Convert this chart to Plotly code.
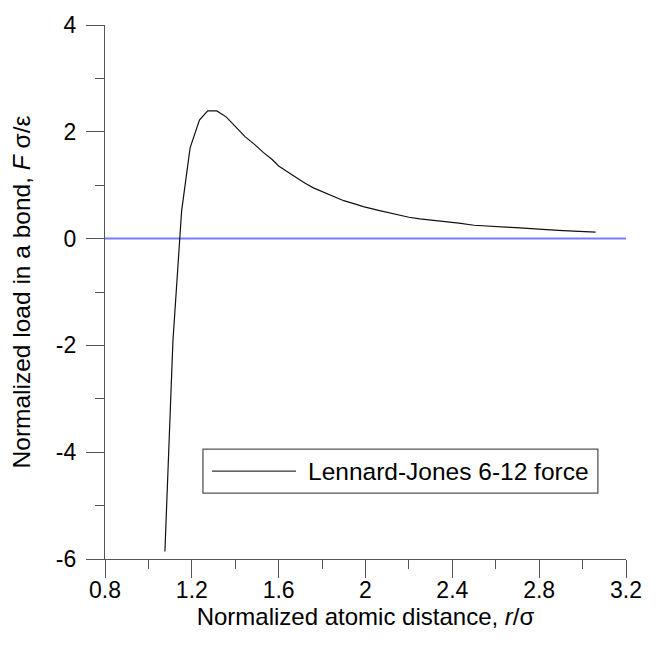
import plotly.graph_objects as go

# Data
r_sigma = [1.076, 1.113, 1.153, 1.192, 1.235, 1.273, 1.315, 1.358, 1.40, 1.445,
           1.49, 1.53, 1.57, 1.60, 1.64, 1.68, 1.72, 1.76, 1.81, 1.85,
           1.90, 1.95, 1.99, 2.06, 2.13, 2.20, 2.25, 2.30, 2.36, 2.43,
           2.50, 2.56, 2.62, 2.67, 2.71, 2.77, 2.82, 2.87, 2.91, 2.96,
           3.00, 3.06]
force = [-5.86, -1.91, 0.52, 1.70, 2.22, 2.39, 2.39, 2.28, 2.10, 1.91,
         1.76, 1.61, 1.48, 1.36, 1.25, 1.14, 1.04, 0.95, 0.86, 0.79,
         0.71, 0.65, 0.60, 0.53, 0.46, 0.40, 0.37, 0.35, 0.33, 0.29,
         0.25, 0.24, 0.23, 0.21, 0.20, 0.18, 0.17, 0.16, 0.15, 0.14,
         0.14, 0.12]
zero_x = [0.8, 3.2]
zero_y = [0, 0]

series_name = "Lennard-Jones 6-12 force"
x_ticks = [0.8, 1.2, 1.6, 2.0, 2.4, 2.8, 3.2]
x_tick_labels = ["0.8", "1.2", "1.6", "2", "2.4", "2.8", "3.2"]
y_ticks = [-6, -4, -2, 0, 2, 4]
y_tick_labels = ["-6", "-4", "-2", "0", "2", "4"]

FONT = "Liberation Sans, Arial, sans-serif"
AXC = "#555555"

fig = go.Figure()
fig.add_trace(go.Scatter(x=zero_x, y=zero_y, mode="lines",
                         line=dict(color="#7b7bff", width=2),
                         showlegend=False, hoverinfo="skip"))
fig.add_trace(go.Scatter(x=r_sigma, y=force, mode="lines", name=series_name,
                         line=dict(color="#111111", width=1.2),
                         showlegend=False))

# manual legend box (to match the long line sample of the original)
fig.add_shape(type="rect", xref="paper", yref="paper",
              x0=0.188, x1=0.946, y0=0.1233, y1=0.2056,
              line=dict(color="#555555", width=1.3), fillcolor="white", layer="above")
fig.add_shape(type="line", xref="paper", yref="paper",
              x0=0.2054, x1=0.3666, y0=0.1644, y1=0.1644,
              line=dict(color="#333333", width=1.2), layer="above")
fig.add_annotation(xref="paper", yref="paper", x=0.3858, y=0.1644,
                   xanchor="left", yanchor="middle", showarrow=False,
                   text=series_name, font=dict(family=FONT, size=24.5, color="black"))

axis_common = dict(showline=True, linecolor=AXC, linewidth=1.3,
                   ticks="outside", ticklen=18, tickwidth=1.3, tickcolor=AXC,
                   showgrid=False, zeroline=False, mirror=False,
                   tickfont=dict(family=FONT, size=23, color="black"))

fig.update_xaxes(range=[0.8, 3.2], tickmode="array", tickvals=x_ticks,
                 ticktext=x_tick_labels, ticklabelstandoff=-8,
                 minor=dict(ticks="outside", ticklen=9, tickwidth=1.3,
                            tickcolor=AXC, dtick=0.2, tick0=0.8, showgrid=False),
                 title=dict(text="Normalized atomic distance, <i>r</i>/σ",
                            font=dict(family=FONT, size=24, color="black"),
                            standoff=4),
                 **axis_common)
fig.update_yaxes(range=[-6, 4], tickmode="array", tickvals=y_ticks,
                 ticktext=y_tick_labels, ticklabelstandoff=5,
                 minor=dict(ticks="outside", ticklen=9, tickwidth=1.3,
                            tickcolor=AXC, dtick=1, tick0=0, showgrid=False),
                 title=dict(text="Normalized load in a bond, <i>F</i> σ/ε",
                            font=dict(family=FONT, size=24.5, color="black"),
                            standoff=18),
                 **axis_common)

fig.update_layout(width=662, height=646,
                  margin=dict(l=105, r=36, t=19, b=87, pad=0),
                  plot_bgcolor="white", paper_bgcolor="white",
                  showlegend=False,
                  font=dict(family=FONT, color="black"))

fig.write_html("out.html")
